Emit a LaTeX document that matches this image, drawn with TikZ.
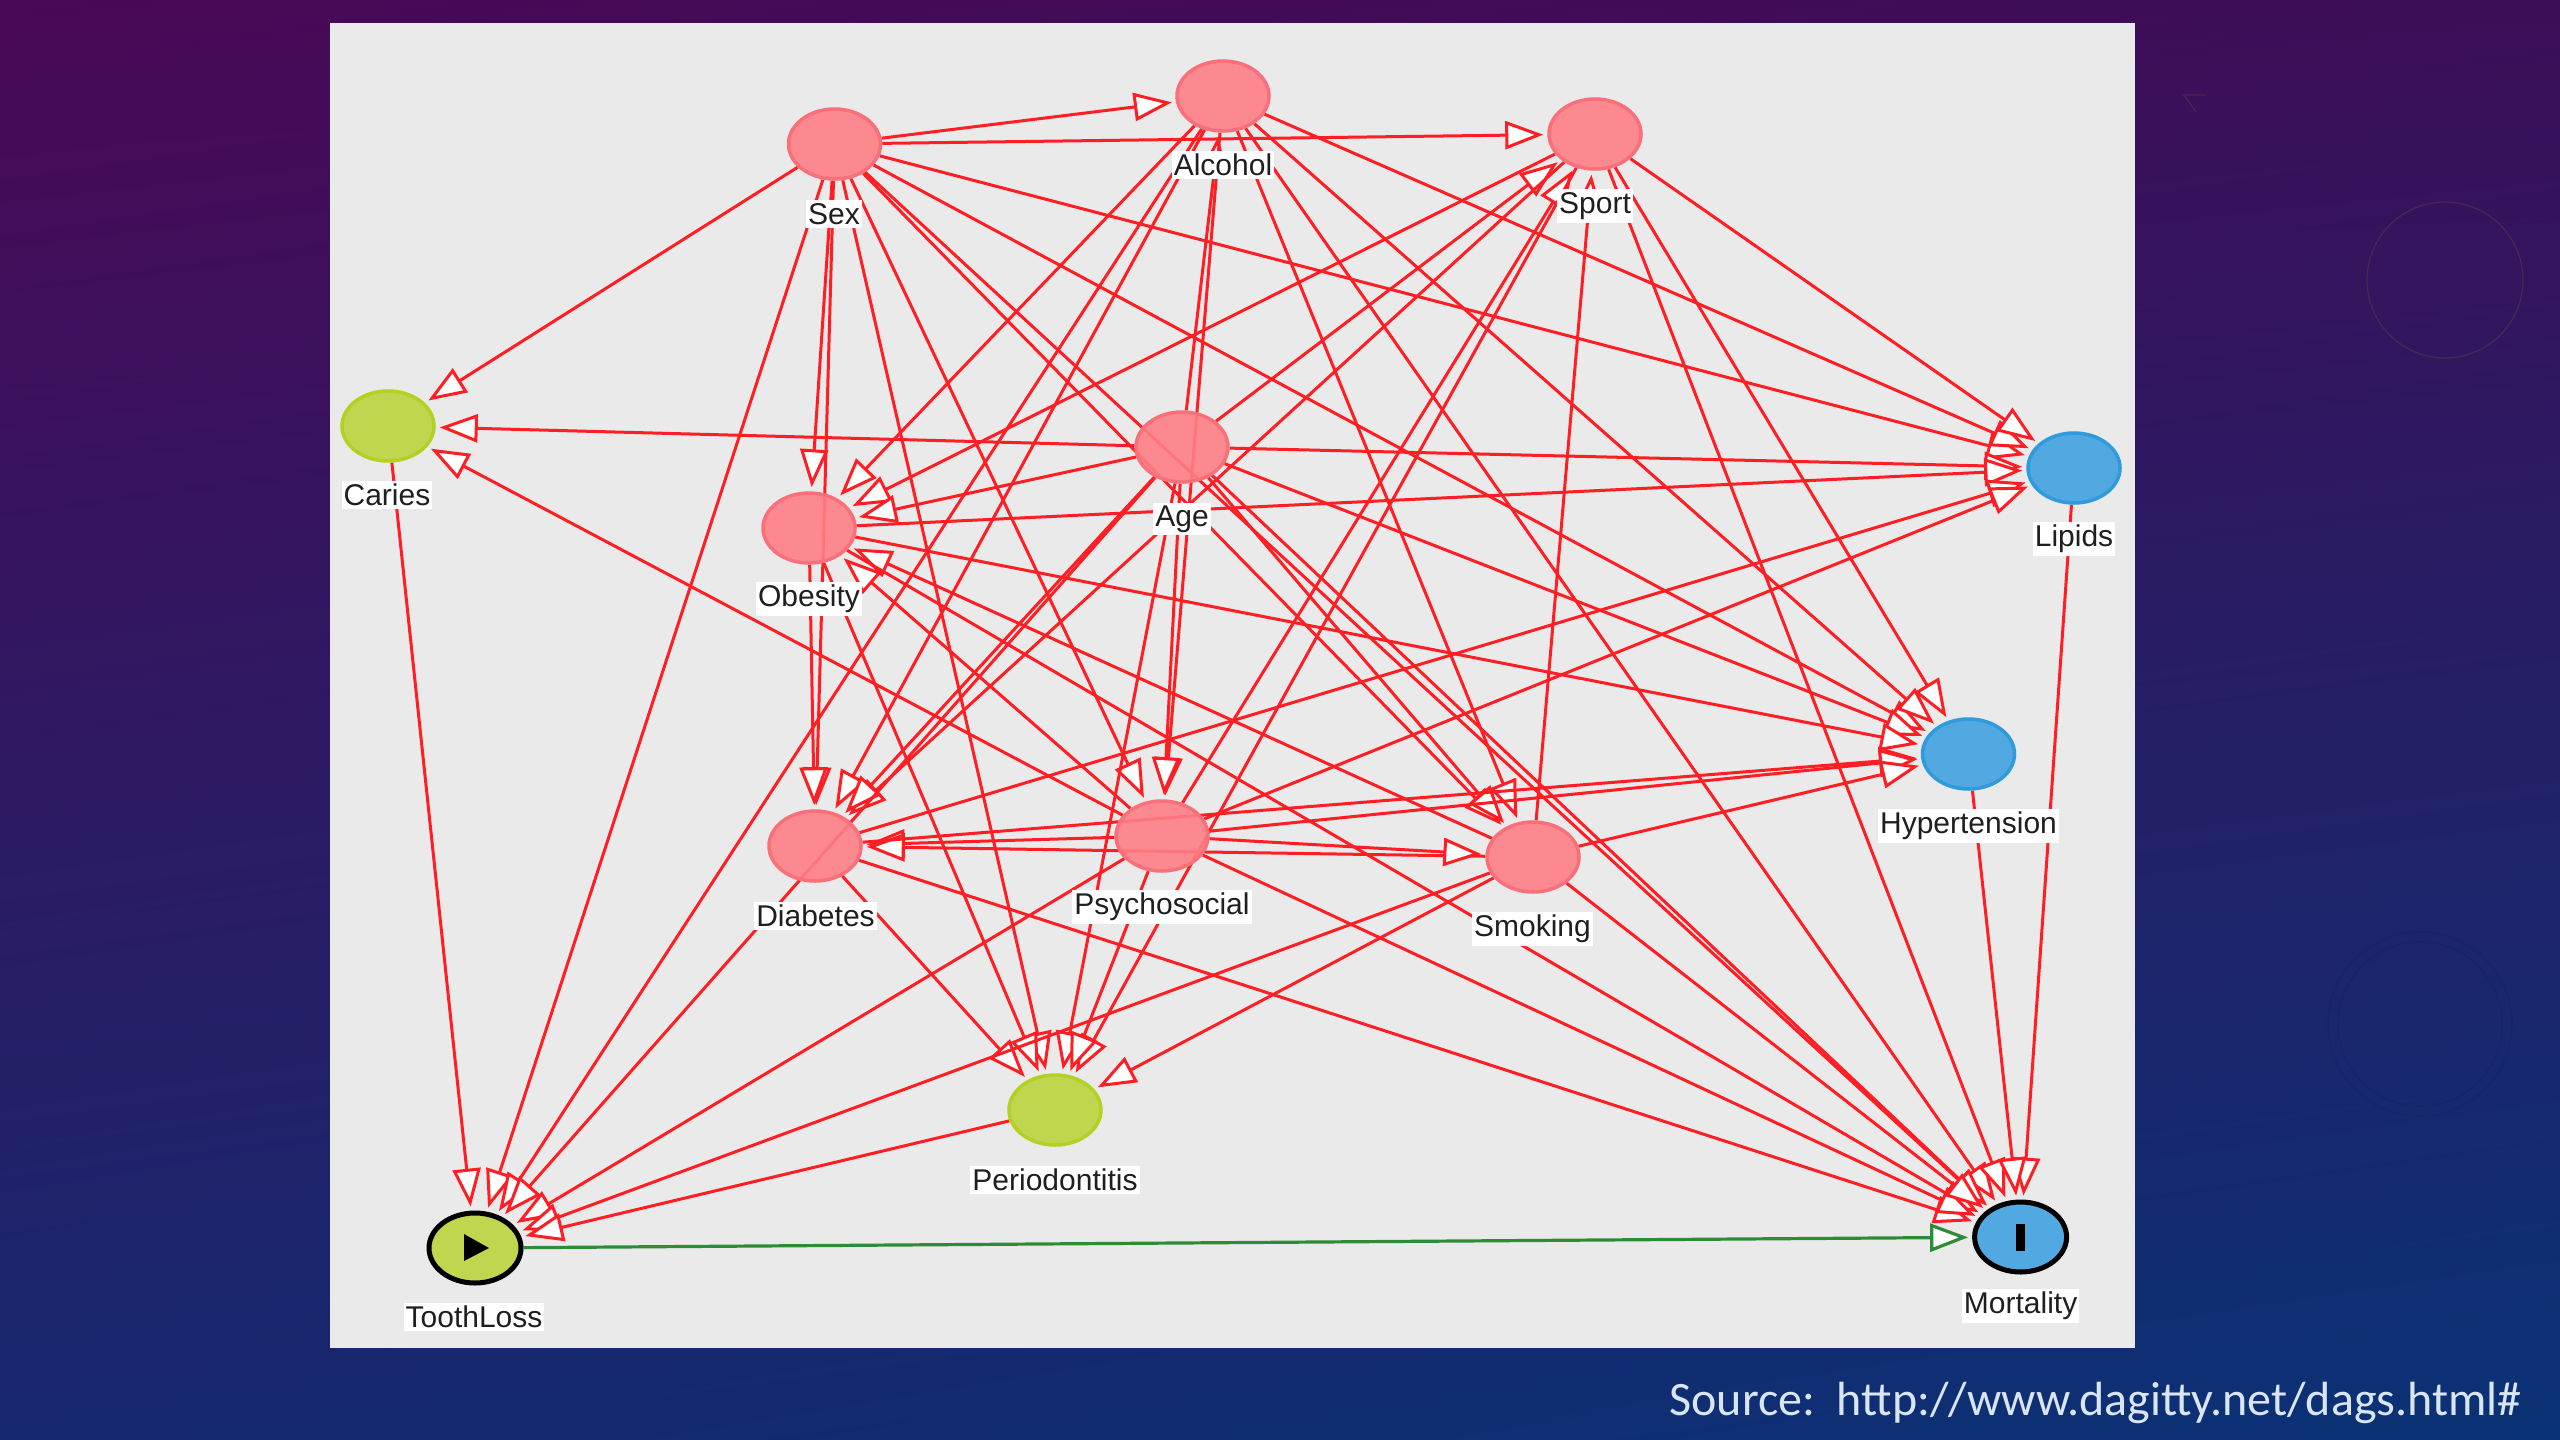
\documentclass[tikz,border=0pt]{standalone}
\usepackage{fontspec}
\setmainfont{Liberation Sans}
\newfontfamily\srcfont{Carlito}
\usetikzlibrary{shapes.geometric,arrows.meta,shadings}
\pgfdeclarelayer{panelL}
\pgfdeclarelayer{edgeL}
\pgfsetlayers{panelL,edgeL,main}
\definecolor{bgTL}{RGB}{74,8,86}
\definecolor{bgTR}{RGB}{60,14,88}
\definecolor{bgBL}{RGB}{22,40,110}
\definecolor{bgBR}{RGB}{10,50,118}
\definecolor{panelC}{HTML}{EAEAEA}
\definecolor{pinkF}{HTML}{FF7F87}
\definecolor{pinkD}{HTML}{F9707A}
\definecolor{limeF}{HTML}{C0D64E}
\definecolor{limeD}{HTML}{B4D022}
\definecolor{blueF}{HTML}{52A8E0}
\definecolor{blueD}{HTML}{2F9ADC}
\definecolor{edgeR}{HTML}{FF1E24}
\definecolor{edgeG}{HTML}{2E8B36}
\definecolor{srcC}{HTML}{D9E5F2}
\tikzset{
  vnode/.style={ellipse,inner sep=0pt,minimum width=92pt,minimum height=70pt,line width=3.5pt},
  conf/.style={vnode,fill=pinkF,draw=pinkD,fill opacity=.9},
  lime/.style={vnode,fill=limeF,draw=limeD},
  skyb/.style={vnode,fill=blueF,draw=blueD},
  expo/.style={vnode,fill=limeF,draw=black,line width=5pt},
  outc/.style={vnode,fill=blueF,draw=black,line width=5pt},
  lab/.style={fill=white,text=black!88,inner xsep=2pt,inner ysep=3pt,font=\fontsize{30}{33}\selectfont},
  edge/.style={draw=edgeR,line width=3pt,shorten >=4pt,
    -{Triangle[length=38pt,width=28pt,fill=white,line width=3pt]}},
  causal/.style={draw=edgeG,line width=3.2pt,shorten >=4pt,
    -{Triangle[length=38pt,width=28pt,fill=white,line width=3.2pt]}},
  faint/.style={line width=1.2pt,opacity=.3}
}
\begin{document}
\begin{tikzpicture}[x=1pt,y=-1pt]
\useasboundingbox (0,0) rectangle (2560,1440);
\begin{pgfonlayer}{panelL}
  \shade[upper left=bgTL,upper right=bgTR,lower left=bgBL,lower right=bgBR] (0,0) rectangle (2560,1440);
  \draw[faint,draw=bgTR!70!yellow] (2445,280) circle (78pt);
  \draw[faint,draw=bgBR!70!black] (2420,1024) circle (92pt);
  \draw[faint,draw=bgBR!70!black] (2420,1024) circle (82pt);
  \draw[faint,draw=bgTR!70!yellow] (2182,95) -- (2206,95) (2184,95) -- (2196,112);
  \fill[panelC] (330,23) rectangle (2135,1348);
\end{pgfonlayer}

\node[conf] (Sex) at (834.5,144) {};
\node[conf] (Alcohol) at (1223,96) {};
\node[conf] (Sport) at (1595,134) {};
\node[lime] (Caries) at (388,426) {};
\node[conf] (Age) at (1182,447) {};
\node[conf] (Obesity) at (809,528) {};
\node[skyb] (Lipids) at (2074,468) {};
\node[skyb] (Hypertension) at (1968.5,754) {};
\node[conf] (Diabetes) at (815,846) {};
\node[conf] (Psychosocial) at (1162,836) {};
\node[conf] (Smoking) at (1533,857) {};
\node[lime] (Periodontitis) at (1055,1110) {};
\node[expo] (ToothLoss) at (475,1248) {};
\node[outc] (Mortality) at (2020.6,1237) {};

\fill[black] (464,1234) -- (489,1248) -- (464,1261) -- cycle;
\fill[black] (2016,1224) rectangle (2025,1251);

\node[lab] (SexL) at (834,214) {Sex};
\node[lab] (AlcoholL) at (1223,165) {Alcohol};
\node[lab] (SportL) at (1595,206) {Sport};
\node[lab] (CariesL) at (387,495) {Caries};
\node[lab] (AgeL) at (1182,519) {Age};
\node[lab] (ObesityL) at (809,599) {Obesity};
\node[lab] (LipidsL) at (2074,539) {Lipids};
\node[lab] (HypertensionL) at (1968.5,826) {Hypertension};
\node[lab] (DiabetesL) at (815.5,916) {Diabetes};
\node[lab] (PsychosocialL) at (1162,907) {Psychosocial};
\node[lab] (SmokingL) at (1532.5,929) {Smoking};
\node[lab] (PeriodontitisL) at (1055,1180) {Periodontitis};
\node[lab] (ToothLossL) at (474,1317) {ToothLoss};
\node[lab] (MortalityL) at (2020.6,1306) {Mortality};

\node[anchor=east,text=srcC,inner sep=0pt,font=\srcfont\fontsize{48}{54}\selectfont] (Source) at (2522,1403) {Source:\ \ http://www.dagitty.net/dags.html\#};

\begin{pgfonlayer}{edgeL}
\foreach \a/\b in {
  Sex/Alcohol,Sex/Sport,Sex/Caries,Sex/Obesity,Sex/Diabetes,Sex/Psychosocial,Sex/Periodontitis,Sex/ToothLoss,Sex/Smoking,Sex/Lipids,Sex/Hypertension,Sex/Mortality,
  Age/Alcohol,Alcohol/Obesity,Alcohol/Diabetes,Alcohol/ToothLoss,Alcohol/Psychosocial,Alcohol/Smoking,Alcohol/Lipids,Alcohol/Hypertension,Alcohol/Mortality,
  Smoking/Sport,Age/Sport,Psychosocial/Sport,Sport/Obesity,Sport/Diabetes,Sport/Periodontitis,Sport/Lipids,Sport/Hypertension,Sport/Mortality,
  Age/Caries,Age/Obesity,Age/Diabetes,Age/ToothLoss,Age/Psychosocial,Age/Periodontitis,Age/Smoking,Age/Lipids,Age/Hypertension,Age/Mortality,
  Psychosocial/Obesity,Smoking/Obesity,Obesity/Diabetes,Obesity/Periodontitis,Obesity/Lipids,Obesity/Hypertension,Obesity/Mortality,
  Psychosocial/Diabetes,Smoking/Diabetes,Diabetes/Periodontitis,Diabetes/Lipids,Diabetes/Hypertension,Diabetes/Mortality,
  Psychosocial/Caries,Psychosocial/Smoking,Psychosocial/Periodontitis,Psychosocial/ToothLoss,Psychosocial/Lipids,Psychosocial/Hypertension,Psychosocial/Mortality,
  Smoking/Periodontitis,Smoking/ToothLoss,Smoking/Hypertension,Smoking/Mortality,
  Caries/ToothLoss,Periodontitis/ToothLoss,Lipids/Mortality,Hypertension/Mortality}
  {\draw[edge] (\a) -- (\b);}
\draw[causal] (ToothLoss) -- (Mortality);
\end{pgfonlayer}
\end{tikzpicture}
\end{document}
